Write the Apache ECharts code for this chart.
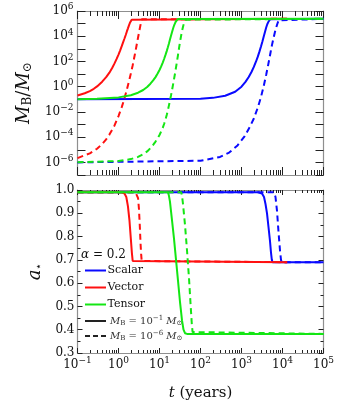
<!DOCTYPE html>
<html>
<head>
<meta charset="utf-8">
<script src="https://cdn.jsdelivr.net/npm/echarts@6/dist/echarts.min.js"></script>
<style>
  html, body { margin: 0; padding: 0; background: #fff; }
  #chart { width: 357px; height: 407px; }
</style>
</head>
<body>
<div id="chart"></div>
<script>
// ---- ticks ----
const timeDecades = [0.1, 1, 10, 100, 1000, 10000, 100000];
const timeMinorTicks = [0.2, 0.3, 0.4, 0.5, 0.6, 0.7, 0.8, 0.9,
  2, 3, 4, 5, 6, 7, 8, 9, 20, 30, 40, 50, 60, 70, 80, 90,
  200, 300, 400, 500, 600, 700, 800, 900, 2000, 3000, 4000, 5000, 6000, 7000, 8000, 9000,
  20000, 30000, 40000, 50000, 60000, 70000, 80000, 90000];
const massTicks = [1e-7, 1e-6, 1e-5, 1e-4, 1e-3, 1e-2, 1e-1, 1, 10, 100, 1e3, 1e4, 1e5, 1e6];
const massLabels = [1e-6, 1e-4, 1e-2, 1, 100, 1e4, 1e6];

// ---- cloud mass M_B / M_sun vs t (years) ----
const tMassScalarSolid = [0.1, 100, 200, 400, 700, 1000, 1250, 1500, 1750, 2000, 2250, 2500, 2750, 3000, 3250, 3500, 3750, 4000, 4250, 4500, 4750, 5000, 5400, 100000];
const mScalarSolid = [0.1, 0.112, 0.13, 0.19, 0.4, 1.0, 2.4, 5.8, 14.5, 37, 95, 240, 630, 1630, 4000, 9900, 2.3e4, 4.9e4, 8.9e4, 1.33e5, 1.8e5, 2.2e5, 2.4e5, 2.4e5];
const tMassScalarDashed = [0.1, 100, 300, 500, 800, 1200, 1600, 2000, 2500, 3000, 3500, 4000, 4500, 5000, 5500, 6000, 6500, 7000, 7500, 8000, 8500, 100000];
const mScalarDashed = [1e-6, 1.35e-6, 2.7e-6, 6e-6, 2.2e-5, 1.2e-4, 6.7e-4, 3e-3, 0.022, 0.16, 1.2, 8.9, 59, 360, 1800, 6500, 2e4, 4.8e4, 9.7e4, 1.8e5, 2.4e5, 2.4e5];

const tMassVectorSolid = [0.1, 0.15, 0.2, 0.25, 0.3, 0.4, 0.5, 0.6, 0.7, 0.8, 0.9, 1.0, 1.1, 1.2, 1.3, 1.4, 1.5, 1.6, 1.7, 1.8, 1.9, 2.0, 2.1, 2.2, 2.3, 13000];
const mVectorSolid = [0.2, 0.3, 0.45, 0.68, 1.05, 2.5, 5.7, 13, 30, 70, 160, 350, 760, 1630, 3400, 6600, 1.25e4, 2.4e4, 4.2e4, 7.3e4, 1.15e5, 1.6e5, 2.05e5, 2.32e5, 2.4e5, 2.4e5];
const tMassVectorDashed = [0.1, 0.2, 0.3, 0.4, 0.5, 0.6, 0.8, 1.0, 1.2, 1.4, 1.6, 1.8, 2.0, 2.2, 2.4, 2.6, 2.8, 3.0, 3.2, 3.4, 3.55, 3.7, 3.85, 13000];
const mVectorDashed = [2.2e-6, 5.2e-6, 1.2e-5, 2.9e-5, 6.7e-5, 1.6e-4, 8.5e-4, 4.7e-3, 0.024, 0.12, 0.6, 2.7, 11, 44, 180, 650, 2400, 8000, 2.4e4, 6.5e4, 1.3e5, 2.2e5, 2.4e5, 2.4e5];

const tMassTensorSolid = [0.1, 0.3, 1, 2, 3, 4, 5, 6, 7, 8, 9, 10, 11, 12, 13, 14, 15, 16, 17, 18, 19, 20, 21, 22, 23, 24, 25, 26, 27, 28, 29, 100000];
const mTensorSolid = [0.102, 0.111, 0.142, 0.212, 0.332, 0.547, 0.949, 1.73, 3.15, 5.74, 11.0, 21.1, 40.3, 81.2, 164, 330, 664, 1340, 2690, 5430, 10400, 18900, 32800, 54000, 80700, 1.14e5, 1.47e5, 1.79e5, 2.08e5, 2.3e5, 2.4e5, 2.4e5];
const tMassTensorDashed = [0.1, 1, 2, 3, 4, 5, 6, 7, 8, 9, 10, 11, 12, 13, 14, 15, 16, 17, 18, 19, 20, 22, 24, 26, 28, 30, 32, 34, 36, 38, 40, 42, 44, 46, 48, 100000];
const mTensorDashed = [1.03e-6, 1.28e-6, 1.82e-6, 2.72e-6, 4.48e-6, 7.39e-6, 1.35e-5, 2.45e-5, 4.47e-5, 8.15e-5, 1.48e-4, 2.84e-4, 5.45e-4, 1.15e-3, 2.44e-3, 5.71e-3, 0.0134, 0.0329, 0.081, 0.19, 0.442, 2.42, 12, 59.3, 266, 1190, 4370, 1.31e4, 3.23e4, 6.84e4, 1.19e5, 1.69e5, 2.06e5, 2.28e5, 2.4e5, 2.4e5];

// ---- BH spin a* vs t (years) ----
const tSpinScalarSolid = [0.1, 2523, 3162, 3540, 3850, 4190, 4560, 4960, 5250, 5490, 5710, 100000];
const aSpinScalarSolid = [0.99, 0.99, 0.985, 0.97, 0.94, 0.90, 0.84, 0.78, 0.73, 0.70, 0.69, 0.69];
const tSpinScalarDashed = [0.1, 6210, 6750, 7350, 7990, 8690, 9190, 9560, 100000];
const aSpinScalarDashed = [0.99, 0.99, 0.97, 0.91, 0.82, 0.74, 0.70, 0.69, 0.69];
const tSpinVectorSolid = [0.1, 1.2, 1.4, 1.55, 1.7, 1.85, 2.0, 2.12, 2.22, 2.3, 13000];
const aSpinVectorSolid = [0.99, 0.99, 0.985, 0.97, 0.93, 0.87, 0.79, 0.73, 0.695, 0.69, 0.69];
const tSpinVectorDashed = [0.1, 2.6, 2.85, 3.0, 3.15, 3.3, 3.45, 3.58, 3.68, 3.76, 13000];
const aSpinVectorDashed = [0.99, 0.99, 0.985, 0.965, 0.92, 0.85, 0.77, 0.72, 0.695, 0.69, 0.69];
const tSpinTensorSolid = [0.1, 16.1, 17.0, 18.0, 20.2, 22.6, 25.3, 28.3, 31.6, 35.4, 38.5, 41.9, 46.9, 100000];
const aSpinTensorSolid = [0.99, 0.99, 0.975, 0.95, 0.87, 0.79, 0.70, 0.61, 0.52, 0.44, 0.40, 0.385, 0.382, 0.382];
const tSpinTensorDashed = [0.1, 33.9, 35.4, 37.4, 41.9, 46.9, 52.5, 57.2, 61.6, 64.2, 69.6, 100000];
const aSpinTensorDashed = [0.99, 0.99, 0.975, 0.94, 0.85, 0.74, 0.62, 0.51, 0.42, 0.39, 0.382, 0.382];

const FONT = 'DejaVu Serif';
const BLUE = '#0a0aff', RED = '#ff1010', GREEN = '#14e614';
const FRAME = '#8f8f8f', TICK = '#222';

function pairs(ts, vs) {
  return ts.map((t, i) => [t, vs[i]]);
}

function pow10(v) {
  const e = Math.round(Math.log10(v));
  return '10{sup|' + (e < 0 ? '\u2212' + (-e) : e) + '}';
}

const supRich = {
  sup: { fontSize: 9, fontFamily: FONT, color: '#111', verticalAlign: 'top', padding: [0, 0, 8, 0] }
};

function curve(ts, vs, color, dashed, xi, yi) {
  return {
    type: 'line',
    xAxisIndex: xi,
    yAxisIndex: yi,
    data: pairs(ts, vs),
    showSymbol: false,
    lineStyle: { color: color, width: 2, type: dashed ? [6, 4] : 'solid' }
  };
}

// frame axes: the same setup that drew visible ticks in the test page
function timeAxes(gridIndex, withLabels, majorLen, minorLen) {
  const base = { type: 'log', gridIndex: gridIndex, min: 0.1, max: 100000, splitLine: { show: false } };
  const major = (pos, labels) => Object.assign({}, base, {
    position: pos,
    axisLine: { show: true, lineStyle: { color: FRAME, width: 1.2 } },
    axisTick: { show: true, inside: true, length: majorLen, customValues: timeDecades, lineStyle: { color: TICK, width: 1 } },
    axisLabel: labels ? {
      show: true, customValues: timeDecades, formatter: pow10, margin: 3,
      fontFamily: FONT, fontSize: 12, color: '#111', rich: supRich
    } : { show: false }
  });
  const minor = (pos) => Object.assign({}, base, {
    position: pos,
    axisLine: { show: false },
    axisTick: { show: true, inside: true, length: minorLen, customValues: timeMinorTicks, lineStyle: { color: TICK, width: 1 } },
    axisLabel: { show: false }
  });
  const b = major('bottom', withLabels);
  if (withLabels) {
    b.name = '{i|t} (years)';
    b.nameLocation = 'middle';
    b.nameGap = 33;
    b.nameTextStyle = {
      fontFamily: FONT, fontSize: 15, color: '#111',
      rich: { i: { fontFamily: FONT, fontSize: 15, fontStyle: 'italic', color: '#111' } }
    };
  }
  return [b, major('top', false), minor('bottom'), minor('top')];
}

const chart = echarts.init(document.getElementById('chart'));

chart.setOption({
  animation: false,
  grid: [
    { left: 77.5, top: 11, width: 246, height: 164, containLabel: false, outerBoundsMode: 'none' },
    { left: 77.5, top: 190, width: 246, height: 163, containLabel: false, outerBoundsMode: 'none' }
  ],
  // top panel keeps long ticks, bottom panel short ones, to see which show
  xAxis: timeAxes(0, false, 8, 5).concat(timeAxes(1, true, 5, 3)),
  yAxis: [
    {
      type: 'log', gridIndex: 0, min: 1e-7, max: 1e6, position: 'left',
      splitLine: { show: false },
      axisLine: { show: true, lineStyle: { color: FRAME, width: 1.2 } },
      axisTick: { show: true, inside: true, length: 8, customValues: massTicks, lineStyle: { color: TICK, width: 1 } },
      axisLabel: {
        show: true, customValues: massLabels, formatter: pow10, margin: 4,
        fontFamily: FONT, fontSize: 12, color: '#111', rich: supRich
      },
      name: '{i|M}{sub|B}/{i|M}{sub|\u2299}',
      nameLocation: 'middle', nameRotate: 90, nameGap: 40,
      nameTextStyle: {
        fontFamily: FONT, fontSize: 18, color: '#111',
        rich: {
          i: { fontFamily: FONT, fontSize: 18, fontStyle: 'italic', color: '#111' },
          sub: { fontFamily: FONT, fontSize: 12, color: '#111', verticalAlign: 'bottom', padding: [8, 0, 0, 0] }
        }
      }
    },
    {
      type: 'log', gridIndex: 0, min: 1e-7, max: 1e6, position: 'right',
      splitLine: { show: false },
      axisLine: { show: true, lineStyle: { color: FRAME, width: 1.2 } },
      axisTick: { show: true, inside: true, length: 8, customValues: massTicks, lineStyle: { color: TICK, width: 1 } },
      axisLabel: { show: false }
    },
    {
      type: 'value', gridIndex: 1, min: 0.3, max: 1.0, interval: 0.1, position: 'left',
      splitLine: { show: false },
      axisLine: { show: true, lineStyle: { color: FRAME, width: 1.2 } },
      axisTick: { show: true, inside: true, length: 5, lineStyle: { color: TICK, width: 1 } },
      minorTick: { show: true, splitNumber: 2, length: 3, lineStyle: { color: TICK, width: 1 } },
      axisLabel: {
        show: true, margin: 3, fontFamily: FONT, fontSize: 12, color: '#111',
        formatter: v => v.toFixed(1)
      },
      name: '{i|a}{sub|\u22c6}',
      nameLocation: 'middle', nameRotate: 90, nameGap: 32,
      nameTextStyle: {
        fontFamily: FONT, fontSize: 18, color: '#111',
        rich: {
          i: { fontFamily: FONT, fontSize: 18, fontStyle: 'italic', color: '#111' },
          sub: { fontFamily: FONT, fontSize: 11, color: '#111', verticalAlign: 'bottom', padding: [8, 0, 0, 0] }
        }
      }
    },
    {
      type: 'value', gridIndex: 1, min: 0.3, max: 1.0, interval: 0.1, position: 'right',
      splitLine: { show: false },
      axisLine: { show: true, lineStyle: { color: FRAME, width: 1.2 } },
      axisTick: { show: true, inside: true, length: 5, lineStyle: { color: TICK, width: 1 } },
      minorTick: { show: true, splitNumber: 2, length: 3, lineStyle: { color: TICK, width: 1 } },
      axisLabel: { show: false }
    }
  ],
  series: [
    // top panel: cloud mass
    curve(tMassScalarSolid, mScalarSolid, BLUE, false, 0, 0),
    curve(tMassScalarDashed, mScalarDashed, BLUE, true, 0, 0),
    curve(tMassVectorSolid, mVectorSolid, RED, false, 0, 0),
    curve(tMassVectorDashed, mVectorDashed, RED, true, 0, 0),
    curve(tMassTensorSolid, mTensorSolid, GREEN, false, 0, 0),
    curve(tMassTensorDashed, mTensorDashed, GREEN, true, 0, 0),
    // bottom panel: spin
    curve(tSpinScalarSolid, aSpinScalarSolid, BLUE, false, 4, 2),
    curve(tSpinScalarDashed, aSpinScalarDashed, BLUE, true, 4, 2),
    curve(tSpinVectorSolid, aSpinVectorSolid, RED, false, 4, 2),
    curve(tSpinVectorDashed, aSpinVectorDashed, RED, true, 4, 2),
    curve(tSpinTensorSolid, aSpinTensorSolid, GREEN, false, 4, 2),
    curve(tSpinTensorDashed, aSpinTensorDashed, GREEN, true, 4, 2)
  ],
  graphic: [
    { type: 'text', x: 81, y: 255, style: { text: '{i|\u03b1} = 0.2', fontFamily: FONT, fontSize: 12, fill: '#111', verticalAlign: 'middle',
      rich: { i: { fontFamily: FONT, fontSize: 12, fontStyle: 'italic', fill: '#111' } } } },
    { type: 'line', shape: { x1: 85, y1: 270.5, x2: 106, y2: 270.5 }, style: { stroke: BLUE, lineWidth: 2 } },
    { type: 'line', shape: { x1: 85, y1: 287.5, x2: 106, y2: 287.5 }, style: { stroke: RED, lineWidth: 2 } },
    { type: 'line', shape: { x1: 85, y1: 304.5, x2: 106, y2: 304.5 }, style: { stroke: GREEN, lineWidth: 2 } },
    { type: 'line', shape: { x1: 85, y1: 321, x2: 106, y2: 321 }, style: { stroke: '#222', lineWidth: 2 } },
    { type: 'line', shape: { x1: 85, y1: 336, x2: 106, y2: 336 }, style: { stroke: '#222', lineWidth: 2, lineDash: [5, 3] } },
    { type: 'text', x: 107.5, y: 270.5, style: { text: 'Scalar', fontFamily: FONT, fontSize: 11, fill: '#111', verticalAlign: 'middle' } },
    { type: 'text', x: 107.5, y: 287.5, style: { text: 'Vector', fontFamily: FONT, fontSize: 11, fill: '#111', verticalAlign: 'middle' } },
    { type: 'text', x: 107.5, y: 304.5, style: { text: 'Tensor', fontFamily: FONT, fontSize: 11, fill: '#111', verticalAlign: 'middle' } },
    { type: 'text', x: 110, y: 321, style: { text: '{i|M}{sub|B} = 10{sup|\u22121} {i|M}{sub|\u2299}', fontFamily: FONT, fontSize: 10, fill: '#333', verticalAlign: 'middle',
      rich: {
        i: { fontFamily: FONT, fontSize: 10, fontStyle: 'italic', fill: '#333' },
        sub: { fontFamily: FONT, fontSize: 7, fill: '#333', verticalAlign: 'bottom', padding: [5, 0, 0, 0] },
        sup: { fontFamily: FONT, fontSize: 7, fill: '#333', verticalAlign: 'top', padding: [0, 0, 5, 0] }
      } } },
    { type: 'text', x: 110, y: 336, style: { text: '{i|M}{sub|B} = 10{sup|\u22126} {i|M}{sub|\u2299}', fontFamily: FONT, fontSize: 10, fill: '#333', verticalAlign: 'middle',
      rich: {
        i: { fontFamily: FONT, fontSize: 10, fontStyle: 'italic', fill: '#333' },
        sub: { fontFamily: FONT, fontSize: 7, fill: '#333', verticalAlign: 'bottom', padding: [5, 0, 0, 0] },
        sup: { fontFamily: FONT, fontSize: 7, fill: '#333', verticalAlign: 'top', padding: [0, 0, 5, 0] }
      } } }
  ]
});
</script>
</body>
</html>
